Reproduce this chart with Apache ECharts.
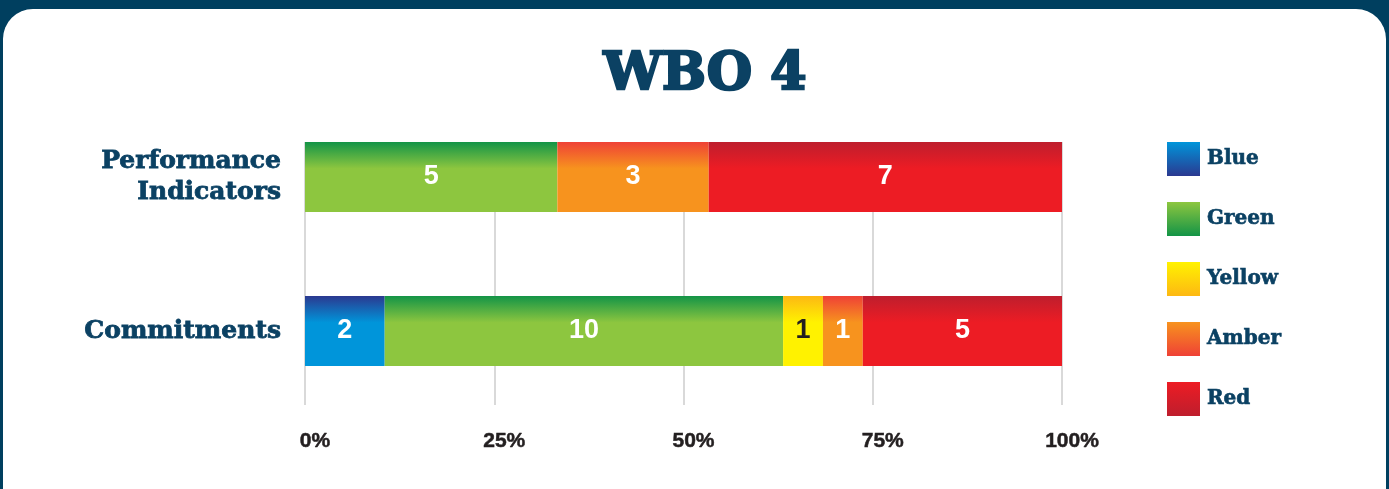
<!DOCTYPE html>
<html><head><meta charset="utf-8">
<script src="https://cdn.jsdelivr.net/npm/echarts@6/dist/echarts.min.js"></script>
<style>html,body{margin:0;padding:0;background:#003f5f;}#c{width:1389px;height:489px;}</style>
</head><body><div id="c"></div>
<script>
const title = 'WBO 4';
const categories = ['Performance\nIndicators', 'Commitments'];
const seriesNames = ['Blue', 'Green', 'Yellow', 'Amber', 'Red'];
const blueVals = [0, 2];
const greenVals = [5, 10];
const yellowVals = [0, 1];
const amberVals = [3, 1];
const redVals = [7, 5];
const tickValues = [0, 25, 50, 75, 100];

const allVals = [blueVals, greenVals, yellowVals, amberVals, redVals];
const totals = categories.map((c, i) => allVals.reduce((s, a) => s + a[i], 0));

const palette = {
  Blue:   { dark: '#2b3990', light: '#0095da' },
  Green:  { dark: '#139447', light: '#8dc63f' },
  Yellow: { dark: '#fdb813', light: '#fff200' },
  Amber:  { dark: '#ef4136', light: '#f7931e' },
  Red:    { dark: '#be1e2d', light: '#ed1c24' }
};
const labelColor = { Blue: '#fff', Green: '#fff', Yellow: '#231f20', Amber: '#fff', Red: '#fff' };

function barGrad(n) {
  return new echarts.graphic.LinearGradient(0, 0, 0, 1, [
    { offset: 0, color: palette[n].dark },
    { offset: 0.38, color: palette[n].light },
    { offset: 1, color: palette[n].light }
  ]);
}
function legendGrad(n) {
  return new echarts.graphic.LinearGradient(0, 0, 0, 1, [
    { offset: 0, color: palette[n].light },
    { offset: 1, color: palette[n].dark }
  ]);
}

const slab = '"DejaVu Serif", serif';
const navy = '#0b4163';

const series = seriesNames.map((n, si) => ({
  name: n,
  type: 'bar',
  stack: 'all',
  xAxisIndex: 0, yAxisIndex: 0,
  barWidth: 70,
  itemStyle: { color: barGrad(n) },
  label: {
    show: true,
    position: 'inside',
    color: labelColor[n],
    fontFamily: '"Liberation Sans", Arial, sans-serif',
    fontWeight: 'bold',
    fontSize: 27,
    formatter: p => (allVals[si][p.dataIndex] > 0 ? String(allVals[si][p.dataIndex]) : '')
  },
  data: allVals[si].map((v, i) => v / totals[i] * 100)
}));

series.push({
  type: 'line', xAxisIndex: 1, yAxisIndex: 1, data: [], silent: true
});

const chart = echarts.init(document.getElementById('c'), null, { renderer: 'canvas' });
chart.setOption({
  backgroundColor: '#003f5f',
  animation: false,
  graphic: [{
    type: 'rect', z: -10, silent: true,
    shape: { x: 3, y: 9, width: 1383, height: 520, r: 30 },
    style: { fill: '#ffffff' }
  }],
  title: {
    text: title, left: 700, textAlign: 'center', top: 44,
    textStyle: { fontFamily: slab, fontWeight: 'bold', fontSize: 52, color: navy,
      textBorderColor: navy, textBorderWidth: 2.5 }
  },
  legend: {
    orient: 'vertical', left: 1167, top: 142, padding: 0,
    itemWidth: 33, itemHeight: 34, itemGap: 26,
    icon: 'rect',
    textStyle: { fontFamily: slab, fontWeight: 'bold', fontSize: 20, color: navy,
      textBorderColor: navy, textBorderWidth: 0.6, padding: [8, 0, 0, 2] },
    data: seriesNames.map(n => ({ name: n, itemStyle: { color: legendGrad(n) } }))
  },
  grid: [
    { left: 305, right: 327, top: 100, height: 308 },
    { left: 305, right: 327, top: 142, bottom: 84 }
  ],
  xAxis: [
    { type: 'value', gridIndex: 0, min: 0, max: 100, show: false, splitLine: { show: false } },
    {
      type: 'value', gridIndex: 1, min: 0, max: 100, interval: 25,
      axisLine: { show: false }, axisTick: { show: false },
      splitLine: { show: true, lineStyle: { color: '#d9d9d9', width: 2 } },
      axisLabel: {
        margin: 26, color: '#231f20', fontFamily: '"Liberation Sans Narrow", "Liberation Sans", sans-serif',
        fontWeight: 'bold', fontSize: 21, padding: [0, 0, 0, 20],
        textBorderColor: '#231f20', textBorderWidth: 0.5,
        formatter: v => tickValues.includes(v) ? v + '%' : ''
      }
    }
  ],
  yAxis: [
    {
      type: 'category', gridIndex: 0, data: categories, inverse: true,
      axisLine: { show: false }, axisTick: { show: false }, splitLine: { show: false },
      axisLabel: {
        margin: 24, color: navy, fontFamily: slab, fontWeight: 'bold', fontSize: 25, lineHeight: 31, align: 'right',
        textBorderColor: navy, textBorderWidth: 0.8, padding: [0, 0, 8, 0]
      }
    },
    { type: 'value', gridIndex: 1, show: false, splitLine: { show: false } }
  ],
  series: series
});
</script></body></html>
